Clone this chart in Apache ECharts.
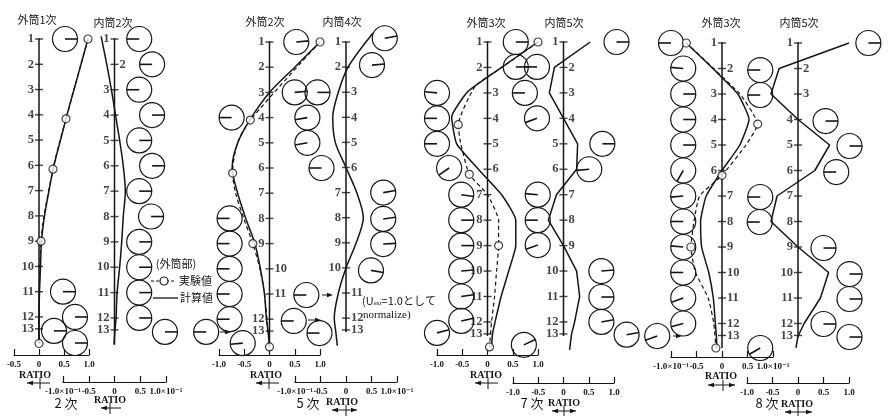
<!DOCTYPE html>
<html>
<head>
<meta charset="utf-8">
<script src="https://cdn.jsdelivr.net/npm/echarts@6.0.0/dist/echarts.min.js"></script>
<style>
  html, body { margin: 0; background: #fff; }
  #main { width: 888px; height: 416px; }
</style>
</head>
<body>
<div id="main"></div>
<script>
// スロット番号 (13 は半ピッチ)
const tapLabels = ['1', '2', '3', '4', '5', '6', '7', '8', '9', '10', '11', '12', '13'];
const tapPos = [1, 2, 3, 4, 5, 6, 7, 8, 9, 10, 11, 12, 12.47];

// [RATIO, スロット位置]
// 2次 : 外筒1次 / 内筒2次
const calc1 = [[0.98, 1], [0.84, 2], [0.70, 3], [0.56, 4], [0.43, 5], [0.30, 6], [0.20, 7], [0.11, 8], [0.05, 9], [0.03, 10], [0.01, 11], [0, 12], [0, 13.05]];
const meas1 = [[0.98, 1], [0.54, 4.16], [0.28, 6.15], [0.04, 9.0], [0, 13.05]];
const calc2 = [[-0.26, 0.9], [-0.15, 2], [-0.06, 3], [0.02, 4], [0.1, 5], [0.17, 6], [0.21, 7], [0.17, 8], [0.14, 9], [0.1, 10], [0.05, 11], [0.03, 12], [0.01, 12.47], [-0.01, 13.05]];
// 5次 : 外筒2次 / 内筒4次
const calc3 = [[1.0, 1], [0.5, 2], [0, 3], [-0.36, 4], [-0.63, 5], [-0.74, 6], [-0.63, 7], [-0.47, 8], [-0.29, 9], [-0.18, 10], [-0.1, 11], [-0.06, 12], [-0.03, 12.47], [0, 13.1]];
const meas3 = [[1.0, 1], [-0.38, 4.1], [-0.73, 6.2], [-0.33, 9.0], [0, 13.1]];
const dash3 = [[1.0, 1], [-0.38, 4.1], [-0.63, 5], [-0.73, 6.2], [-0.67, 7], [-0.51, 8], [-0.33, 9], [-0.19, 10], [-0.1, 11], [-0.05, 12], [0, 13.1]];
const calc4 = [[0.53, 0.64], [0.04, 2], [-0.15, 3], [-0.26, 4], [-0.21, 5], [0, 6], [0.21, 7], [0.34, 8], [0.2, 9], [0, 10], [-0.15, 11], [-0.23, 12], [-0.2, 12.55], [-0.17, 13.1]];
// 7次 : 外筒3次 / 内筒5次
const calc5 = [[1.0, 1], [0.28, 2], [-0.39, 2.95], [-0.71, 3.95], [-0.61, 5], [-0.18, 6], [0.28, 7], [0.56, 8], [0.56, 9], [0.42, 10], [0.27, 11], [0.15, 12], [0.1, 12.47], [0.08, 12.98]];
const meas5 = [[1.0, 1], [-0.58, 4.25], [-0.36, 6.2], [0.22, 9], [0.04, 12.98]];
const dash5 = [[1.0, 1], [0.28, 2], [-0.25, 2.75], [-0.58, 4.25], [-0.53, 5], [-0.36, 6.2], [0, 7], [0.22, 8], [0.22, 9], [0.18, 10], [0.14, 11], [0.08, 12], [0.04, 12.98]];
const calc6 = [[0.53, 1], [-0.18, 2], [-0.28, 3], [0, 4], [0.28, 5], [0.26, 6], [-0.14, 7], [-0.3, 8], [0, 9], [0.26, 10], [0.32, 11], [0.22, 12], [0.16, 12.47], [0.12, 13.1]];
// 8次 : 外筒3次 / 内筒5次
const calc7 = [[-0.7, 1], [-0.18, 2], [0.31, 3], [0.53, 4], [0.35, 5], [0, 6], [-0.31, 7], [-0.42, 8], [-0.4, 9], [-0.26, 10], [-0.17, 11], [-0.13, 12], [-0.11, 12.5], [-0.1, 12.96]];
const meas7 = [[-0.7, 1], [0.7, 4.18], [0, 6.19], [-0.61, 9.0], [-0.12, 12.96]];
const dash7 = [[-0.7, 1], [0.35, 3], [0.7, 4.18], [0.47, 5], [0, 6.19], [-0.44, 7], [-0.55, 8], [-0.61, 9], [-0.52, 10], [-0.27, 11], [-0.16, 12], [-0.12, 12.96]];
const calc8 = [[1.0, 1], [-0.37, 2], [-0.53, 3], [0, 4], [0.62, 5], [0.33, 6], [-0.41, 7], [-0.53, 8], [0, 9], [0.6, 10], [0.44, 11], [0.12, 12], [0, 12.5], [-0.04, 12.96]];

// 位相円 [RATIO, スロット位置, 角度(度)]
const phasor1 = [[0.52, 1, 0], [0.48, 11, 0], [0.72, 12, 0], [0.30, 12.55, 0], [0.72, 13.03, 0]];
const phasor2 = [[0.48, 1, 180], [0.73, 2, 180], [0.48, 3, 180], [0.73, 4, 0], [0.48, 5, 0], [0.73, 6, 0], [0.48, 7, 0],
  [0.71, 8, 0], [0.48, 9, 0], [0.48, 10, 0], [0.48, 11, 0], [0.48, 12, 0], [0.98, 12.55, 0], [1.78, 12.55, 180]];
const phasor3 = [[0.53, 1, 5], [0.5, 3, 5], [0.95, 3, 0], [-0.75, 4, 180], [0.75, 4, 190], [0.75, 5, 190], [1.03, 6, 180],
  [-0.79, 8, 180], [-0.79, 9, 180], [-0.79, 10, 180], [-0.79, 11, 180], [-0.79, 12, 180],
  [0.73, 11.04, 180], [0.48, 12.07, 180], [0.99, 12.55, 180], [-0.53, 12.95, 185]];
const phasor4 = [[0.76, 0.85, 10], [0.51, 1.92, 5], [0.73, 7.0, 10], [0.73, 8.05, 8], [0.73, 9.05, 3], [0.49, 10.1, -10]];
const phasor5 = [[0.56, 1, 0], [0.56, 1.98, 0], [0.98, 1.98, 180], [0.74, 3, 180], [0.98, 4, 200],
  [-1.0, 3, 175], [-1.0, 4, 180], [-1.0, 5, 180], [-0.76, 5.95, 215],
  [-0.52, 7, -8], [-0.52, 8, 0], [-0.52, 9, 0], [-0.52, 10, 5], [-0.52, 11, 8], [-0.52, 11.96, 12],
  [-1.0, 12.43, 15], [0.72, 12.9, 25]];
const phasor6 = [[-0.51, 7, 175], [-0.51, 8, 180], [-0.51, 8.98, 200], [1.05, 1, 0], [0.77, 5, 0], [0.51, 6, 185],
  [0.75, 10, 5], [0.75, 11.02, 0], [0.75, 12, 10], [1.25, 12.5, 10]];
const phasor7 = [[-1.0, 1, 180], [-0.76, 2, 175], [-0.76, 3, 0], [-0.76, 4, 0], [-0.76, 5, 0], [-0.76, 6, 240],
  [-0.76, 7, 185], [-0.76, 8, 180], [-0.76, 9, 175], [-0.76, 10, 180], [-0.76, 11, 200], [-0.76, 12, 195],
  [-1.27, 12.49, 200], [0.75, 12.96, 210]];
const phasor8 = [[-0.74, 2.06, 180], [-0.74, 3.04, 180], [-0.74, 7.04, 180], [-0.75, 8.02, 180],
  [1.38, 1, 0], [0.54, 4.06, 0], [1.01, 5.04, 0], [0.75, 6.06, 180], [0.5, 9.04, 0],
  [1.01, 10.06, 0], [1.01, 11.04, 0], [0.5, 12.02, 0], [1.01, 12.53, 0]];

const ink = '#151515';
const serif = '"Liberation Serif", "DejaVu Serif", serif';
const cjk = '"Noto Sans CJK JP", sans-serif';
const R = 12.5;

// レイアウト
const panels = [
  {title: '外筒1次', tx: 37, ty: 20, xMin: -0.5, xMax: 1, px: [14, 89], y1: 39, s: 25.27, axisY: 355, sci: false,
    sides: 'LLLLLLLLLLLLL', span: [0.97, 13.05], calc: calc1, dash: meas1, meas: meas1, ph: phasor1, smooth: 0.3},
  {title: '内筒2次', tx: 113, ty: 23, xMin: -1, xMax: 1, px: [63, 166], y1: 39, s: 25.36, axisY: 382, sci: true,
    sides: 'LRLLLLLLLLLLL', span: [0.97, 13.05], calc: calc2, ph: phasor2, smooth: 0.3},
  {title: '外筒2次', tx: 265, ty: 22, xMin: -1, xMax: 1, px: [219, 320], y1: 42, s: 25.2, axisY: 355, sci: false,
    sides: 'LLLLLLLLLRRLL', span: [0.97, 13.1], calc: calc3, dash: dash3, meas: meas3, ph: phasor3, smooth: 0.3},
  {title: '内筒4次', tx: 342, ty: 22, xMin: -1, xMax: 1, px: [295, 397], y1: 42, s: 25.1, axisY: 382, sci: true,
    sides: 'LLRRRRLLLLRRR', span: [0.97, 12.55], calc: calc4, ph: phasor4, smooth: 0.3},
  {title: '外筒3次', tx: 486, ty: 23, xMin: -1, xMax: 1, px: [437, 538], y1: 42, s: 25.45, axisY: 355, sci: false,
    sides: 'LLRRRRLLLLLLL', span: [0.97, 12.55], calc: calc5, dash: dash5, meas: meas5, ph: phasor5, smooth: 0.15},
  {title: '内筒5次', tx: 564, ty: 23, xMin: -1, xMax: 1, px: [513, 614], y1: 42, s: 25.45, axisY: 383, sci: false,
    sides: 'LRRRLLRRRLLLL', span: [0.97, 12.55], calc: calc6, ph: phasor6, smooth: 0},
  {title: '外筒3次', tx: 721, ty: 23, xMin: -1, xMax: 1, px: [671, 773], y1: 43, s: 25.5, axisY: 357, sci: true,
    sides: 'LRLLLLRRRRRRR', span: [0.97, 12.96], calc: calc7, dash: dash7, meas: meas7, ph: phasor7, smooth: 0.15},
  {title: '内筒5次', tx: 799, ty: 23, xMin: -1, xMax: 1, px: [747, 849], y1: 43, s: 25.5, axisY: 383, sci: false,
    sides: 'LRRLLLLLLLLLL', span: [0.97, 12.55], calc: calc8, ph: phasor8, smooth: 0}
];

function fmt(v, sci) {
  if (Math.abs(v) < 1e-9) return '0';
  if (sci && Math.abs(v) === 1) return (v < 0 ? '-' : '') + '1.0×10⁻¹';
  return v.toFixed(1);
}

function renderPhasor(params, api) {
  const c = api.coord([api.value(0), api.value(1)]);
  const a = api.value(2) * Math.PI / 180;
  return {
    type: 'group',
    children: [
      {type: 'circle', shape: {cx: c[0], cy: c[1], r: R}, style: {fill: 'none', stroke: ink, lineWidth: 1.2}},
      {type: 'line', shape: {x1: c[0], y1: c[1], x2: c[0] + R * Math.cos(a), y2: c[1] - R * Math.sin(a)},
        style: {stroke: ink, lineWidth: 1.6}}
    ]
  };
}

const grids = [], xAxes = [], yAxes = [], series = [];
const T = 20;
panels.forEach((p, i) => {
  const B = p.axisY;
  grids.push({left: p.px[0], width: p.px[1] - p.px[0], top: T, height: B - T});
  xAxes.push({
    type: 'value', gridIndex: i, min: p.xMin, max: p.xMax, interval: 0.5,
    axisLine: {onZero: false, lineStyle: {color: ink, width: 1.2}},
    axisTick: {inside: true, length: 6, lineStyle: {color: ink, width: 1.2}},
    splitLine: {show: false},
    axisLabel: {margin: 5, fontSize: 9, fontFamily: serif, fontWeight: 'bold', color: ink,
      showMinLabel: true, showMaxLabel: true, hideOverlap: false,
      formatter: v => fmt(v, p.sci)}
  });
  yAxes.push({
    type: 'value', gridIndex: i, inverse: true, show: false,
    min: 1 - (p.y1 - T) / p.s,
    max: 12 + (B - (p.y1 + 11 * p.s)) / p.s
  });
  const ax = {xAxisIndex: i, yAxisIndex: i};
  // 縦軸 (スロット)
  series.push(Object.assign({
    type: 'line', data: [[0, p.span[0]], [0, p.span[1]]], showSymbol: false, silent: true,
    lineStyle: {color: ink, width: 1.5}, z: 2
  }, ax));
  series.push(Object.assign({
    type: 'scatter', symbol: 'rect', symbolSize: [8, 1.4], silent: true, z: 2,
    itemStyle: {color: ink},
    data: tapPos.map((pos, k) => ({
      value: [0, pos],
      label: {position: p.sides[k] === 'L' ? 'left' : 'right'}
    })),
    label: {show: true, distance: 1, fontSize: 12.5, fontFamily: serif, fontWeight: 'bold', color: ink,
      formatter: d => tapLabels[d.dataIndex]}
  }, ax));
  // 計算値
  series.push(Object.assign({
    type: 'line', data: p.calc, showSymbol: false, smooth: p.smooth, clip: false, silent: true,
    lineStyle: {color: ink, width: 1.5}, z: 3
  }, ax));
  // 実験値
  if (p.dash) {
    series.push(Object.assign({
      type: 'line', data: p.dash, showSymbol: false, smooth: p.smooth, clip: false, silent: true,
      lineStyle: {color: ink, width: 1.2, type: [4, 3]}, z: 3
    }, ax));
    series.push(Object.assign({
      type: 'scatter', data: p.meas, symbol: 'circle', symbolSize: 8, clip: false, silent: true,
      itemStyle: {color: '#fff', borderColor: ink, borderWidth: 1.2}, z: 5
    }, ax));
  }
  // 位相円
  series.push(Object.assign({
    type: 'custom', coordinateSystem: 'cartesian2d', data: p.ph, renderItem: renderPhasor,
    clip: false, silent: true, z: 4
  }, ax));
});

// 注記
const graphic = [];
function text(x, y, str, size, font, align) {
  graphic.push({type: 'text', x: x, y: y, silent: true, style: {
    text: str, fontSize: size, fontFamily: font, fill: ink, align: align || 'center', verticalAlign: 'middle'}});
}
function seg(x1, y1, x2, y2, w, dash) {
  graphic.push({type: 'line', silent: true, shape: {x1: x1, y1: y1, x2: x2, y2: y2},
    style: {stroke: ink, lineWidth: w || 1.2, lineDash: dash || null}});
}
function head(x, y, dir) {
  graphic.push({type: 'polygon', silent: true,
    shape: {points: [[x, y], [x - dir * 6, y - 2.2], [x - dir * 6, y + 2.2]]}, style: {fill: ink}});
}
panels.forEach(p => text(p.tx, p.ty, p.title, 11, cjk));

const ratioMarks = [
  {x: 35, y: 375, ay: 383, a: 27, b: 50, v: 40, both: false},
  {x: 110, y: 400, ay: 408, a: 101, b: 121, v: 110, both: false},
  {x: 266, y: 375, ay: 383, a: 256, b: 279, v: 269, both: false},
  {x: 342, y: 402, ay: 410, a: 332, b: 357, v: 346, both: true},
  {x: 486, y: 375, ay: 383, a: 475, b: 498, v: 488, both: false},
  {x: 564, y: 403, ay: 411, a: 552, b: 576, v: 564, both: true},
  {x: 721, y: 376, ay: 385, a: 708, b: 735, v: 723, both: true},
  {x: 797, y: 404, ay: 412, a: 785, b: 812, v: 798, both: true}
];
ratioMarks.forEach(m => {
  graphic.push({type: 'text', x: m.x, y: m.y, silent: true, style: {
    text: 'RATIO', fontSize: 10, fontFamily: serif, fontWeight: 'bold', fill: ink, align: 'center', verticalAlign: 'middle'}});
  seg(m.a, m.ay, m.b, m.ay, 1);
  head(m.a, m.ay, -1);
  if (m.both) head(m.b, m.ay, 1);
  seg(m.v, m.ay - 5, m.v, m.ay + 6, 1);
});
[['2 次', 66], ['5 次', 308], ['7 次', 532], ['8 次', 767]].forEach(o => text(o[1], 403, o[0], 13, cjk));

// 凡例
text(176, 264, '(外筒部)', 11, cjk);
seg(151, 281, 176, 281, 1.2, [3, 2]);
graphic.push({type: 'circle', silent: true, shape: {cx: 164, cy: 281, r: 4},
  style: {fill: '#fff', stroke: ink, lineWidth: 1.2}});
text(179, 281, '実験値', 11, cjk, 'left');
seg(153, 298, 178, 298, 1.3);
text(180, 298, '計算値', 11, cjk, 'left');
graphic.push({type: 'text', x: 362, y: 301, silent: true, style: {
  text: '{a|(U}{b|ext}{a|=1.0として}', verticalAlign: 'middle',
  rich: {a: {fontSize: 11, fontFamily: cjk, fill: ink}, b: {fontSize: 6.5, fontFamily: serif, fill: ink, padding: [5, 0, 0, 0]}}
}});
text(363, 315, 'normalize)', 11, serif, 'left');

// 小矢印
[[322, 295, 333], [308, 320, 321], [220, 332, 231], [673, 336, 682]].forEach(a => {
  seg(a[0], a[1], a[2] - 3, a[1], 1);
  head(a[2], a[1], 1);
});

const chart = echarts.init(document.getElementById('main'));
chart.setOption({
  animation: false,
  backgroundColor: '#fff',
  grid: grids,
  xAxis: xAxes,
  yAxis: yAxes,
  series: series,
  graphic: graphic
});
</script>
</body>
</html>
